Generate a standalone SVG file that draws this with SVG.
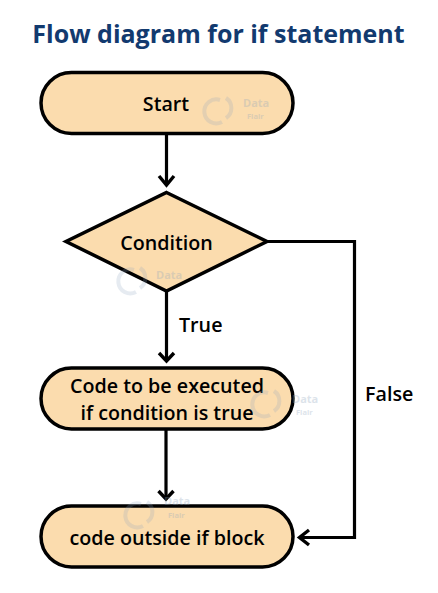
<svg xmlns="http://www.w3.org/2000/svg" width="438" height="593" viewBox="0 0 438 593">
<style>
.n{fill:#fbdcae;stroke:#000;stroke-width:3.5}
.c{fill:none;stroke:#000;stroke-width:3.2}
.h{fill:none;stroke:#000;stroke-width:3.4}
text{font-family:"Open Sans","Noto Sans",sans-serif;font-weight:600;fill:#000;font-size:19.700px}
.m{text-anchor:middle}
.t{font-weight:700;font-size:25px;fill:#123a6f}
text.w{font-weight:700;fill:#8fa6bd;font-size:11px;opacity:.3}
text.f{font-size:7.500px}
.wl{fill:none;stroke:#8fa6bd;stroke-width:4;opacity:.22}
</style>
<rect width="438" height="593" fill="#fff"/>
<text id="title" class="t m" x="218.500" y="43">Flow diagram for if statement</text>
<g id="connectors">
<path class="c" d="M166.500 134V185"/><path class="h" d="M159 176L166.500 185L174 176" />
<path class="c" d="M268 241.500H354.500V537.500H300"/><path class="h" d="M309 530L299.500 537.500L309 545"/>
<path class="c" d="M166.500 290V360"/><path class="h" d="M159 353L166.500 361L174 353"/>
<path class="c" d="M166 430V499"/><path class="h" d="M158.500 491L166 499L173.500 491"/>
</g>
<g id="start"><rect class="n" x="41" y="72.500" width="252" height="61" rx="30.500"/><text class="m" x="166" y="111">Start</text>
<path class="wl" d="M220 100a12 12 0 1 0 2 22M226 98a12 12 0 0 1 0 20"/><text class="w" x="243" y="107">Data</text><text class="w f" x="247" y="119">Flair</text></g>
<g id="condition"><path class="n" d="M166.500 192.500L267 241.500L166.500 291L66 241.500Z"/><text class="m" x="166.500" y="249.500">Condition</text>
<path class="wl" d="M134 270a12 12 0 1 0 2 22M140 268a12 12 0 0 1 0 20"/><text class="w" x="156" y="279">Data</text></g>
<g id="code"><rect class="n" x="41" y="368" width="252" height="61" rx="30.500"/><text class="m" x="167" y="392.500">Code to be executed</text><text class="m" x="167" y="420">if condition is true</text>
<path class="wl" d="M268 393a12 12 0 1 0 2 22M274 391a12 12 0 0 1 0 20"/><text class="w" x="292" y="403">Data</text><text class="w f" x="296" y="415">Flair</text></g>
<g id="outside"><rect class="n" x="41" y="506" width="252" height="61" rx="30.500"/><text class="m" x="167" y="544.500">code outside if block</text>
<path class="wl" d="M141 504a12 12 0 1 0 2 22M147 502a12 12 0 0 1 0 20"/><text class="w" x="164" y="505">Data</text><text class="w f" x="168" y="518">Flair</text></g>
<text x="179" y="332">True</text>
<text x="365" y="400.500">False</text>
</svg>
